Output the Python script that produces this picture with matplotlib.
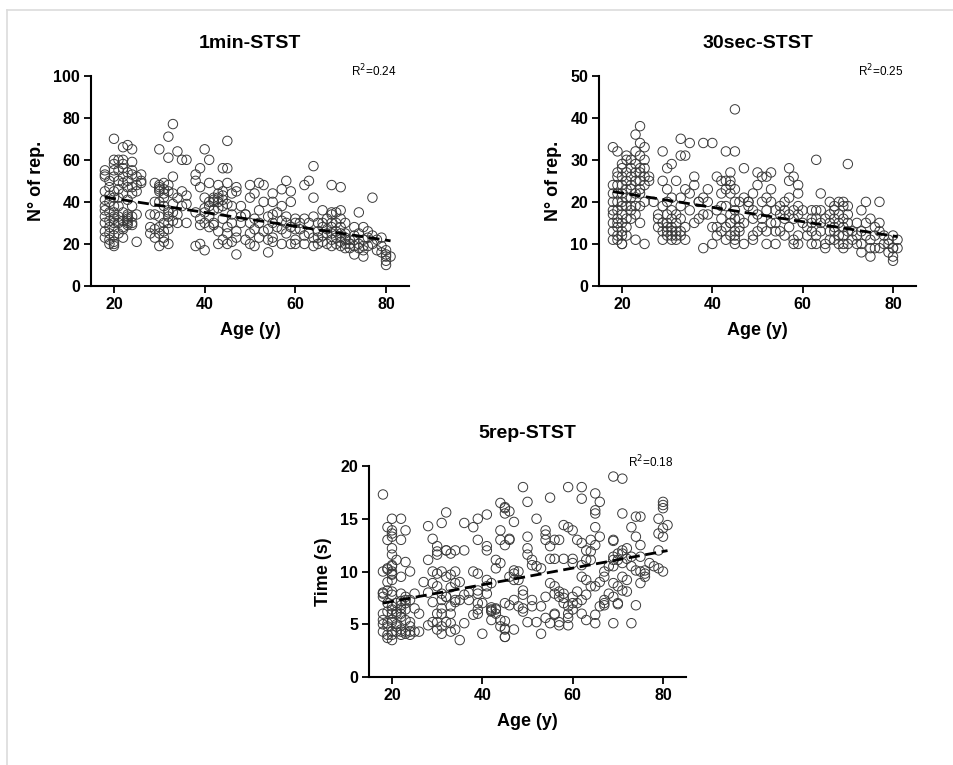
import numpy as np
import matplotlib
matplotlib.use("Agg")
import matplotlib.pyplot as plt
from matplotlib.lines import Line2D

plt.rcParams['font.family'] = ['Liberation Sans Narrow', 'Liberation Sans', 'DejaVu Sans']

# (age, repetitions)
one_min_pts = [
    (20,70),(18,53),(18,52),(18,55),(18,45),(18,41),(18,36),(18,33),(18,30),(19,28),(19,25),(19,22),(20,19),(20,58),(20,60),(20,45),(20,42),(20,38),(20,33),(20,30),
    (19,50),(19,47),(19,35),(19,31),(20,27),(20,24),(20,21),(20,20),(19,20),(18,26),(18,23),(18,38),(20,52),(20,55),(20,35),(20,32),(19,40),(19,43),
    (22,66),(23,67),(24,65),(22,60),(24,59),(21,55),(22,56),(23,54),(24,53),(25,52),(26,49),(21,50),(22,49),(24,47),(25,45),(21,42),(23,41),(24,38),(25,34),(23,34),(23,31),(24,29),(24,30),(21,25),(22,23),(25,21),
    (23,33),(23,32),(23,30),(23,29),(22,31),(22,28),(22,27),(21,38),(21,46),(22,44),(22,52),(23,47),(23,50),(24,55),(24,44),(21,30),(21,33),(22,35),(24,33),(25,48),(26,50),(26,53),(21,60),(22,58),
    (33,77),(32,71),(30,65),(34,64),(32,61),(35,60),(36,60),(29,49),(31,49),(32,48),(30,45),(31,44),(31,42),(33,44),(36,43),(35,38),(33,39),(28,34),(29,34),(30,33),(32,33),(34,34),(32,30),(34,30),(36,30),(28,28),(28,25),(29,23),(31,23),(31,26),(32,27),(30,19),(32,20),(31,21),
    (30,47),(30,48),(30,46),(31,46),(30,40),(32,36),(32,35),(31,30),(30,28),(29,27),(33,35),(31,38),(32,45),(33,52),(29,40),(34,42),(35,45),(36,39),(33,31),(30,25),
    (45,69),(40,65),(41,60),(39,56),(38,53),(38,50),(39,47),(44,56),(45,56),(41,49),(43,48),(45,49),(47,47),(47,45),(42,42),(43,44),(44,45),(44,41),(41,38),(43,37),(45,39),(46,38),(48,38),(40,35),(41,33),(42,30),(44,32),(46,34),(48,33),(49,34),(39,29),(40,30),(42,29),(45,28),(47,26),(47,23),(46,21),(45,20),(43,20),(38,19),(39,20),(40,17),(47,15),
    (42,40),(42,41),(43,42),(43,40),(42,36),(44,38),(41,40),(40,42),(44,43),(40,37),(41,28),(43,26),(44,22),(45,25),(46,30),(46,44),(38,35),(39,32),
    (64,57),(63,50),(62,48),(58,50),(57,46),(59,45),(59,40),(57,38),(50,48),(52,49),(53,48),(50,42),(51,44),(53,40),(55,44),(49,34),(50,30),(52,30),(54,33),(55,34),(57,31),(58,30),(60,32),(51,27),(52,23),(54,22),(55,23),(57,27),(58,25),(60,27),(50,20),(51,19),(54,16),(55,21),(57,20),(59,20),(55,30),(54,27),
    (50,25),(51,32),(53,26),(56,28),(56,35),(58,33),(59,28),(60,30),(48,30),(49,22),(52,36),(55,40),(60,22),(60,20),
    (68,48),(70,47),(64,42),(66,36),(68,34),(69,35),(70,36),(62,32),(64,33),(65,30),(68,30),(68,28),(61,27),(63,25),(64,23),(65,23),(67,25),(69,26),(62,20),(64,19),(65,20),(66,21),(68,19),(70,23),(71,22),(71,23),(72,20),(70,19),(71,18),
    (66,30),(66,28),(67,32),(67,27),(68,22),(68,25),(69,20),(69,23),(70,21),(70,25),(70,28),(71,20),(71,25),(72,22),(72,18),(69,30),(66,24),(63,30),(61,30),(62,24),(65,26),(67,20),(68,35),(70,32),(71,30),
    (77,42),(74,35),(73,28),(75,28),(77,24),(76,23),(73,19),(74,18),(75,19),(76,19),(73,15),(75,14),(79,23),(79,19),(80,15),(80,14),(81,14),(80,10),
    (73,22),(74,25),(74,20),(75,22),(76,26),(77,20),(78,17),(78,22),(79,16),(80,12),(80,17),(73,24),(75,17),
]

# (age, repetitions)
thirty_sec_pts = [
    (18,33),(19,32),(24,38),(23,36),(24,34),(23,32),(25,33),(25,30),(24,31),
    (21,31),(21,30),(22,30),(20,29),(23,29),(19,27),(20,28),(21,27),(22,28),(23,27),(25,28),(26,26),(26,25),(25,26),
    (18,24),(19,24),(20,24),(21,25),(22,24),(24,25),(25,24),(22,23),(24,22),(21,21),(20,20),(19,22),(18,22),
    (18,18),(18,17),(19,16),(20,17),(19,15),(19,14),(20,13),(19,12),(20,12),(20,10),(20,10),
    (22,19),(23,19),(24,19),(24,15),(23,11),(25,10),(27,20),(25,20),(21,16),(22,18),
    (18,20),(18,15),(18,13),(19,20),(19,18),(19,26),(20,22),(20,26),(20,19),(20,15),(21,23),(21,19),(21,14),(22,21),(22,26),(22,16),(23,22),(23,25),(23,17),(24,27),(24,23),(24,28),(19,11),(18,11),(21,12),
    (29,32),(33,35),(35,34),(33,31),(34,31),(31,29),(30,28),(29,25),(32,25),(30,23),(34,23),(31,21),(33,21),(30,20),(29,19),(33,19),
    (28,17),(28,16),(30,15),(31,14),(31,13),(32,15),(33,16),(29,13),(30,12),(32,12),(29,11),(31,11),(32,11),(33,13),
    (36,26),(36,24),(35,22),(37,20),(35,18),(37,16),(36,15),(34,14),
    (30,17),(30,14),(31,16),(31,12),(29,15),(32,13),(32,17),(30,13),(31,18),(33,12),(34,11),(28,14),
    (45,42),(38,34),(40,34),(43,32),(45,32),(47,28),
    (44,27),(41,26),(42,25),(44,25),(44,24),(45,23),(43,23),(42,22),(39,23),(37,20),(38,21),(39,20),
    (41,18),(42,19),(43,19),(45,18),(46,20),(47,21),(48,20),(48,19),
    (38,17),(39,17),(40,14),(41,12),(43,11),(45,11),(45,10),(47,10),(46,13),(45,13),(44,15),(42,16),(45,16),(47,15),(44,15),(41,14),(38,9),(40,10),
    (43,25),(44,22),(45,20),(44,17),(46,14),(42,13),(43,14),(45,12),(46,16),(44,12),
    (50,27),(51,26),(52,26),(53,27),(50,24),(53,23),(49,22),(52,21),
    (51,20),(53,20),(55,19),(56,18),(48,20),(49,18),(50,17),
    (49,16),(51,16),(53,15),(54,15),(56,16),(57,17),(58,16),
    (49,12),(50,13),(51,14),(52,13),(54,13),(55,13),(56,12),(58,11),(59,12),(58,10),(59,10),(49,11),(52,10),(54,10),
    (57,28),(57,25),(58,26),(59,24),(59,22),(57,21),(59,19),(59,17),
    (54,18),(55,17),(56,20),(57,14),(58,18),(60,15),(60,18),(52,18),
    (63,30),(70,29),(64,22),
    (62,18),(63,18),(64,18),(66,20),(68,20),(69,20),(67,19),(69,19),(70,19),
    (62,16),(63,16),(65,16),(66,15),(67,16),(69,16),(70,15),(67,14),
    (62,13),(63,12),(64,13),(66,13),(67,13),(69,12),(70,13),(72,12),
    (62,10),(63,10),(65,10),(65,9),(67,11),(69,10),(69,9),(70,10),(72,10),
    (66,17),(67,18),(68,17),(68,15),(69,14),(70,17),(71,13),(71,11),(68,12),(68,10),(66,11),(64,15),(61,14),(61,12),(62,15),
    (74,20),(77,20),(73,18),(75,16),(77,15),(72,15),
    (73,13),(74,12),(76,12),(77,13),(73,10),(75,9),(76,9),(73,8),(75,7),
    (77,9),(79,11),(80,12),(79,10),(80,9),(80,7),(80,6),(80,9),(81,11),
    (74,15),(75,11),(76,14),(78,10),(78,12),(79,8),(81,9),
]

# (age, time in s)
five_rep_pts = [
    (18,17.3),(20,15.0),(20,13.9),(19,13.0),(20,12.2),(20,11.6),(21,11.1),(20,10.6),(20,10.5),
    (19,14.2),(20,13.6),(20,13.3),
    (18,10.0),(19,10.3),(20,9.8),(20,9.7),(19,9.0),(20,9.2),
    (18,7.9),(18,7.6),(20,7.8),(22,7.9),(19,7.0),(20,6.7),(20,6.4),
    (18,6.0),(18,5.4),(19,5.1),(19,4.8),(20,5.2),(21,4.8),(21,4.3),(22,4.0),(22,4.3),
    (18,4.3),(19,4.0),(19,3.7),(20,3.5),(20,4.0),(20,4.3),
    (22,15.0),(23,13.9),(22,13.0),(22,9.5),(24,10.0),(23,10.9),
    (23,7.6),(23,7.3),(22,6.8),(23,6.4),(22,6.0),(22,5.7),(23,5.4),(24,5.2),(24,4.8),(24,4.3),(24,4.0),(23,4.3),(25,4.3),(26,4.3),(26,6.0),(25,6.5),(24,7.3),(25,7.9),
    (20,6.0),(20,5.4),(21,6.0),
    (18,8.0),(19,8.2),(20,8.1),(21,7.0),(22,7.2),(21,6.2),(22,6.5),(23,7.0),(22,4.5),(23,4.1),(21,5.0),(19,10.2),(20,10.0),(19,6.2),(18,5.0),
    (28,14.3),(31,14.6),(32,15.6),(29,13.1),
    (28,11.1),(30,12.4),(30,11.9),(32,12.0),(32,12.0),(34,12.0),(36,12.0),(30,11.6),(33,11.7),
    (30,9.8),(31,10.0),(32,9.5),(33,9.7),(34,8.9),(29,8.9),(30,8.6),(31,7.9),
    (29,7.1),(31,7.3),(32,7.6),(32,7.6),(34,7.3),(34,7.1),(35,7.3),(37,7.3),(33,6.7),(31,6.5),(31,6.0),(33,6.0),(30,6.0),(29,5.2),(30,5.2),(32,5.2),(33,5.1),(33,4.3),(34,4.5),(30,4.5),(31,4.1),(28,4.9),(31,4.8),
    (35,3.5),(36,5.1),(36,14.6),(38,14.2),(39,15.0),
    (28,8.0),(27,9.0),(29,10.0),(33,8.5),(35,9.0),(36,7.8),(37,8.0),(34,10.0),
    (49,18.0),(50,16.6),(44,16.5),(45,16.1),(45,16.0),(46,15.7),(45,15.5),(47,14.7),(41,15.4),
    (44,13.9),(46,13.1),(46,13.0),(44,13.0),(45,12.5),(39,13.0),(41,12.4),(41,12.0),
    (43,11.1),(43,10.3),(44,10.8),(47,10.1),(47,9.8),(48,9.2),(47,9.2),(38,10.0),(39,9.8),(41,9.2),(41,8.6),(42,8.9),(39,7.9),(39,8.2),(41,7.9),(39,7.0),(39,6.4),
    (42,6.4),(42,6.2),(43,6.5),(43,6.0),(42,5.4),(44,5.4),(44,4.8),(45,4.6),(45,4.5),(45,3.8),(47,4.5),(39,6.0),(40,7.0),(38,5.9),
    (45,7.0),(46,6.8),(47,7.3),(48,6.7),(49,6.5),(49,7.8),(49,8.2),(40,4.1),(45,3.8),
    (42,6.3),(43,6.4),(42,6.6),(45,5.3),(46,9.5),(48,10.0),
    (59,18.0),(55,17.0),(52,15.0),(50,13.3),(50,12.2),(50,11.6),(51,11.1),(51,10.6),
    (54,13.9),(54,13.0),(55,12.4),(56,13.0),(57,13.0),(54,13.5),(58,14.4),(59,14.2),
    (53,10.3),(52,10.5),(55,11.2),(56,11.2),(58,11.2),(60,11.2),(60,10.8),(62,10.6),
    (51,7.3),(49,6.2),(51,6.7),(50,5.2),(52,5.2),
    (53,6.7),(54,7.6),(55,8.9),(56,7.9),(56,8.6),(57,7.6),(58,7.5),(58,7.0),(59,6.7),(59,6.0),(60,6.4),(58,7.9),(57,8.1),
    (53,4.1),(55,5.1),(56,5.9),(54,5.6),(56,6.0),(57,5.2),(59,5.6),(57,4.9),(59,4.9),
    (60,7.6),(61,8.1),(62,9.5),(63,9.2),(64,8.6),(63,7.8),(62,7.3),(61,7.0),(60,7.0),
    (62,18.0),(62,16.9),(60,13.9),(61,13.0),(62,12.7),(63,12.0),(64,11.9),(63,11.1),
    (65,17.4),(66,16.6),(65,15.8),(65,15.5),(65,14.2),(64,13.0),(65,12.5),(66,13.3),(64,11.1),
    (62,6.0),(63,5.4),(65,5.9),(66,6.7),(67,7.0),(67,7.3),(68,7.9),(69,7.6),(69,8.9),(70,8.6),(71,8.2),
    (65,8.6),(66,9.0),(67,9.5),(67,10.0),(68,10.5),(69,11.1),(69,11.4),(70,11.7),(71,12.0),(72,12.2),(71,11.7),(70,11.1),(69,10.5),(71,10.8),(72,11.2),(73,11.4),
    (69,13.0),(69,12.9),(71,15.5),(69,19.0),(71,18.8),
    (67,6.8),(70,7.0),(70,6.9),(72,8.1),(72,9.2),(71,9.5),
    (69,5.1),(65,5.1),(73,5.1),(74,6.8),
    (74,15.2),(75,15.2),(73,14.2),(74,13.3),(75,12.5),(75,11.4),(73,10.5),(74,10.1),(75,10.0),(76,10.1),(76,9.8),(77,10.8),(78,10.5),(79,10.3),
    (75,8.9),(76,9.5),
    (80,16.6),(80,16.3),(80,16.0),(79,15.0),(81,14.4),(80,14.1),(80,13.3),(79,13.6),(79,12.0),(80,10.0),
]

# linear fits as drawn in the reference: (slope, intercept)
fit_lines = [(-0.33, 48.2), (-0.17, 25.5), (0.079, 5.58)]

titles = ["1min-STST", "30sec-STST", "5rep-STST"]
ylabels = ["N° of rep.", "N° of rep.", "Time (s)"]
r2_labels = ["R$^2$=0.24", "R$^2$=0.25", "R$^2$=0.18"]
y_max = [100, 50, 20]
y_step = [20, 10, 5]
x_ticks = [20, 40, 60, 80]

W, H = 954, 765
fig = plt.figure(figsize=(W / 100, H / 100), dpi=100)

# frame around the picture (light grey, top and left only visible)
fig.add_artist(Line2D([7 / W, 1], [1 - 10 / H, 1 - 10 / H], color="#dcdcdc", lw=1.2))
fig.add_artist(Line2D([7 / W, 7 / W], [0, 1 - 10 / H], color="#dcdcdc", lw=1.2))

# axes boxes in pixels: left, top-of-plot, right, bottom
boxes = [(91.3, 75.7, 408.7, 286.0), (599.4, 75.7, 915.6, 286.0), (369.4, 466.0, 685.6, 677.0)]
datasets = [one_min_pts, thirty_sec_pts, five_rep_pts]

for i in range(3):
    l, t, r, b = boxes[i]
    ax = fig.add_axes([l / W, 1 - b / H, (r - l) / W, (b - t) / H])
    pts = np.array(datasets[i], dtype=float)
    age, val = pts[:, 0], pts[:, 1]

    ax.scatter(age, val, s=46, facecolors="none", edgecolors="#3a3a3a", linewidths=0.7, zorder=2)

    slope, inter = fit_lines[i]
    xs = np.array([age.min(), age.max()])
    ax.plot(xs, slope * xs + inter, color="black", lw=2.0, ls=(0, (4, 2)), zorder=3)

    ax.set_xlim(15, 85)
    ax.set_ylim(0, y_max[i])
    ax.set_xticks(x_ticks)
    ax.set_yticks(np.arange(0, y_max[i] + 1, y_step[i]))
    for sp in ["top", "right"]:
        ax.spines[sp].set_visible(False)
    for sp in ["left", "bottom"]:
        ax.spines[sp].set_linewidth(1.5)
    ax.tick_params(width=1.3, length=5, labelsize=11.5, pad=3)
    for lab in ax.get_xticklabels() + ax.get_yticklabels():
        lab.set_fontweight("bold")

    ax.set_xlabel("Age (y)", fontsize=13, fontweight="bold", labelpad=7)
    ax.set_ylabel(ylabels[i], fontsize=13, fontweight="bold", labelpad=6)
    ax.set_title(titles[i], fontsize=14, fontweight="bold", pad=20)
    ax.text(0.89, 1.02, r2_labels[i], transform=ax.transAxes, fontsize=8.5,
            ha="center", va="center", family=["Liberation Sans", "DejaVu Sans"])

fig.savefig("out.png", dpi=100)
